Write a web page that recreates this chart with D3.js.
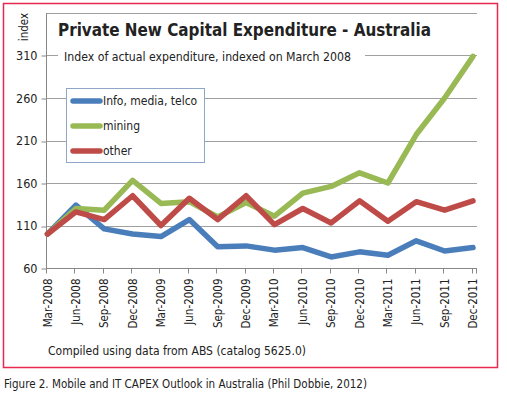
<!DOCTYPE html>
<html><head><meta charset="utf-8">
<script src="https://cdn.jsdelivr.net/npm/d3@7"></script>
<style>body{margin:0;background:#fff}svg{display:block}text{font-family:"DejaVu Sans Condensed","DejaVu Sans",sans-serif;fill:#222}</style>
</head><body><svg id="c" width="507" height="399"></svg>
<script>
const categories = ["Mar-2008","Jun-2008","Sep-2008","Dec-2008","Mar-2009","Jun-2009","Sep-2009","Dec-2009","Mar-2010","Jun-2010","Sep-2010","Dec-2010","Mar-2011","Jun-2011","Sep-2011","Dec-2011"];
const infoMediaTelco = [100,134,106,100,97,117,85,86,81,84,73,79,75,92,80,84];
const mining = [100,130,128,163,136,138,120,137,121,148,156,172,160,217,260,309];
const other = [100,126,117,145,110,142,117,145,111,130,113,139,115,138,128,139];
const yTicks = [60,110,160,210,260,310];
const yGrid = [60,110,160,210,260,310,360];
const seriesNames = ["Info, media, telco","mining","other"];
const colors = ["#4a7ebb","#98b954","#be4b48"];

const svg = d3.select("#c");
svg.append("rect").attr("x",3.5).attr("y",3.5).attr("width",494).attr("height",364).attr("fill","none").attr("stroke","#e8294f").attr("stroke-width",1.5);

const x = d3.scalePoint().domain(categories).range([47.5,473]);
const y = d3.scaleLinear().domain([60,360]).range([268,13]);

// gridlines
svg.append("g").selectAll("line").data(yGrid).join("line")
  .attr("x1",46).attr("x2",477).attr("y1",d=>Math.round(y(d))+0.5).attr("y2",d=>Math.round(y(d))+0.5)
  .attr("stroke","#a0a0a0").attr("stroke-width",1);

// y axis
const ya = svg.append("g").attr("transform","translate(46.5,0)")
  .call(d3.axisLeft(y).tickValues(yTicks).tickSize(5).tickPadding(4).tickFormat(d3.format("d")));
ya.select(".domain").attr("stroke","#888").attr("d","M0,13V268");
ya.selectAll(".tick line").attr("stroke","#888").attr("transform",d=>`translate(0,${Math.round(y(d))+0.5-y(d)})`);
ya.selectAll(".tick text").attr("font-size",12.5).attr("fill","#333").style("font-family","'DejaVu Sans Condensed','DejaVu Sans',sans-serif");

// x axis
const step = x.step();
const xa = svg.append("g").attr("transform","translate(0,268.5)");
xa.append("line").attr("x1",46).attr("x2",477).attr("stroke","#888");
xa.selectAll("line.t").data(categories).join("line").attr("class","t")
  .attr("x1",d=>Math.round(x(d)-1.5)+0.5).attr("x2",d=>Math.round(x(d)-1.5)+0.5).attr("y1",0).attr("y2",5).attr("stroke","#888");
xa.append("line").attr("x1",476.5).attr("x2",476.5).attr("y1",0).attr("y2",5).attr("stroke","#888");
xa.selectAll("text").data(categories).join("text")
  .attr("transform",d=>`translate(${x(d)+4},10) rotate(-90)`)
  .attr("text-anchor","end").attr("font-size",11.5).attr("fill","#333").text(d=>d);

// white background behind subtitle
svg.append("rect").attr("x",58).attr("y",50).attr("width",307).attr("height",14).attr("fill","#fff");
svg.append("rect").attr("x",50).attr("y",14).attr("width",400).attr("height",30).attr("fill","#fff");

// lines
const seriesData = [infoMediaTelco, mining, other];
const line = d3.line().x((d,i)=>x(categories[i])).y(d=>y(d));
seriesData.forEach((s,k)=>{
  svg.append("path").datum(s).attr("d",line).attr("fill","none")
    .attr("stroke",colors[k]).attr("stroke-width",5.5).attr("stroke-linejoin","round").attr("stroke-linecap","round");
});

// title
svg.append("text").attr("x",58).attr("y",36).attr("font-size",18).attr("font-weight","bold").attr("fill","#222")
  .attr("textLength",373).attr("lengthAdjust","spacingAndGlyphs").text("Private New Capital Expenditure - Australia");
svg.append("text").attr("x",64).attr("y",61).attr("font-size",12).attr("fill","#222")
  .attr("textLength",287).attr("lengthAdjust","spacingAndGlyphs").text("Index of actual expenditure, indexed on March 2008");
svg.append("text").attr("transform","translate(28,27) rotate(-90)").attr("text-anchor","middle").attr("font-size",11.5).attr("fill","#333").text("index");

// legend
const lg = svg.append("g");
lg.append("rect").attr("x",66.5).attr("y",88.5).attr("width",138).attr("height",74).attr("fill","#fff").attr("stroke","#8ea6c8");
seriesNames.forEach((n,k)=>{
  const yy = 101 + k*25;
  lg.append("line").attr("x1",73).attr("x2",100).attr("y1",yy).attr("y2",yy).attr("stroke",colors[k]).attr("stroke-width",5.5).attr("stroke-linecap","round");
  lg.append("text").attr("x",103).attr("y",yy+4).attr("font-size",12).attr("fill","#222").text(n);
});

// source
svg.append("text").attr("x",48).attr("y",355).attr("font-size",12).attr("fill","#222")
  .attr("textLength",258).attr("lengthAdjust","spacingAndGlyphs").text("Compiled using data from ABS (catalog 5625.0)");
svg.append("text").attr("x",4).attr("y",388).attr("font-size",13).attr("fill","#111")
  .attr("textLength",363).attr("lengthAdjust","spacingAndGlyphs").text("Figure 2. Mobile and IT CAPEX Outlook in Australia (Phil Dobbie, 2012)");
</script></body></html>
